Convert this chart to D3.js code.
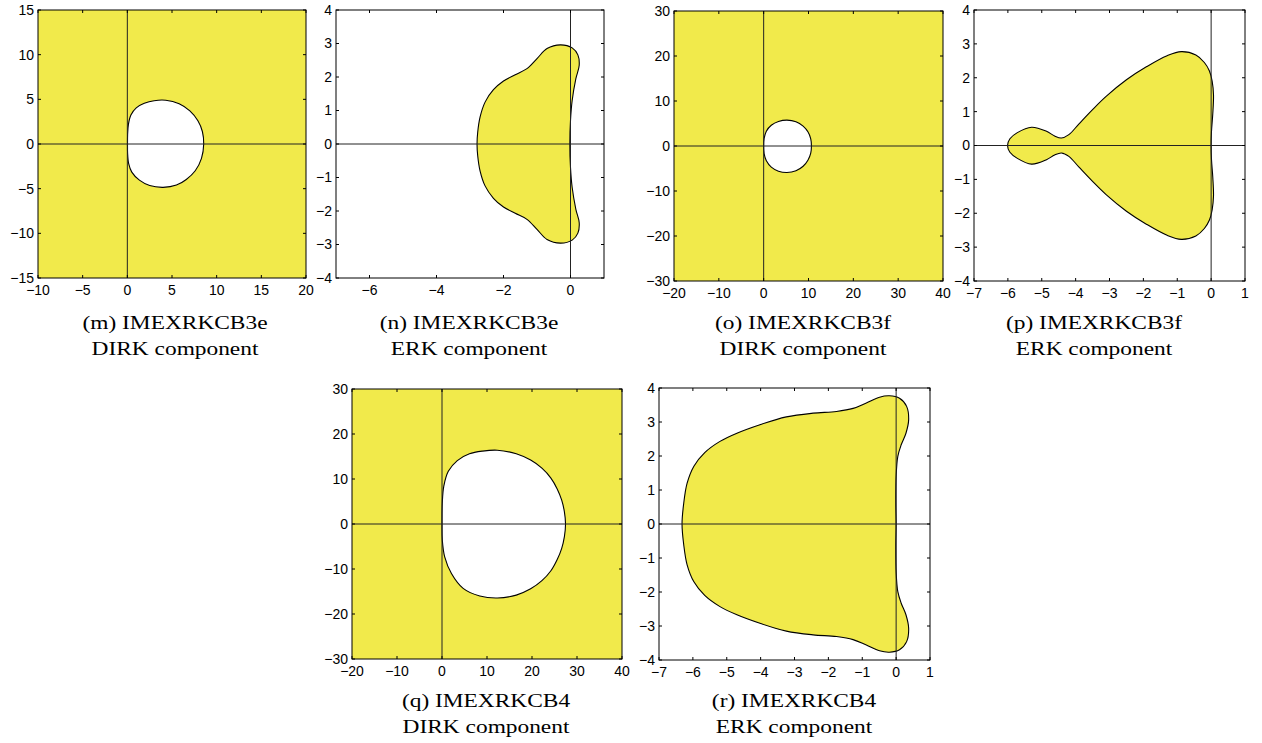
<!DOCTYPE html>
<html>
<head>
<meta charset="utf-8">
<script src="https://cdn.jsdelivr.net/npm/d3@7"></script>
<style>
  body { margin: 0; background: #fff; }
  svg { display: block; }
  .tl { font-family: "Liberation Sans", Arial, Helvetica, sans-serif; font-size: 14px; fill: #000; }
  .cap { font-family: "Liberation Serif", "Times New Roman", serif; font-size: 19.5px; fill: #000; }
</style>
</head>
<body>
<svg id="chart" width="1262" height="743"></svg>
<script>
// stability region boundaries, [Re z, Im z]

// (m) IMEXRKCB3e DIRK - white (unstable) hole
let mHole = [[8.55,0],[8.4,1.4],[7.9,2.6],[7.0,3.7],[5.8,4.5],[4.3,4.9],[3.0,4.85],[1.9,4.55],[1.0,4.05],[0.4,3.25],[0.12,2.2],[0.03,1.0],[0.02,0],
  [0.03,-1.0],[0.15,-2.2],[0.5,-3.15],[1.35,-4.05],[2.5,-4.65],[4.0,-4.85],[5.5,-4.6],[6.6,-3.97],[7.6,-3.0],[8.3,-1.6]];

// (n) IMEXRKCB3e ERK - yellow region
let nRegion = [[-0.02,0],[0.0,0.7],[0.05,1.3],[0.16,1.95],[0.26,2.35],[0.22,2.66],[0.05,2.87],[-0.3,2.96],[-0.7,2.85],[-1.0,2.55],[-1.3,2.25],[-1.65,2.07],[-2.0,1.88],[-2.3,1.62],[-2.55,1.25],[-2.7,0.8],[-2.77,0.35],[-2.79,0],
  [-2.77,-0.35],[-2.7,-0.8],[-2.55,-1.25],[-2.3,-1.62],[-2.0,-1.88],[-1.65,-2.07],[-1.3,-2.25],[-1.0,-2.55],[-0.7,-2.85],[-0.3,-2.96],[0.05,-2.87],[0.22,-2.66],[0.26,-2.35],[0.16,-1.95],[0.05,-1.3],[0.0,-0.7]];

// (o) IMEXRKCB3f DIRK - white hole
let oHole = [[10.65,0],[10.5,1.6],[9.9,3.1],[8.8,4.4],[7.2,5.4],[5.2,5.75],[3.3,5.45],[1.7,4.6],[0.6,3.3],[0.1,1.7],[0,0],
  [0.1,-1.7],[0.6,-3.3],[1.7,-4.7],[3.3,-5.6],[5.2,-5.9],[7.2,-5.5],[8.8,-4.5],[9.9,-3.1],[10.5,-1.6]];

// (p) IMEXRKCB3f ERK - yellow region
let pRegion = [[0,0],[0.01,0.4],[0.05,0.95],[0.07,1.5],[0.03,1.9],[-0.05,2.2],[-0.2,2.45],[-0.45,2.67],[-0.88,2.77],[-1.3,2.65],[-1.9,2.33],[-2.5,1.94],[-3.1,1.45],[-3.5,1.06],[-3.9,0.64],[-4.2,0.32],[-4.42,0.22],[-4.62,0.28],[-4.86,0.42],[-5.3,0.54],[-5.72,0.38],[-5.94,0.2],[-6.01,0],
  [-5.94,-0.2],[-5.72,-0.38],[-5.3,-0.55],[-4.86,-0.42],[-4.62,-0.28],[-4.42,-0.22],[-4.2,-0.32],[-3.9,-0.64],[-3.5,-1.06],[-3.1,-1.45],[-2.5,-1.94],[-1.9,-2.33],[-1.3,-2.65],[-0.88,-2.77],[-0.45,-2.67],[-0.2,-2.45],[-0.05,-2.2],[0.03,-1.9],[0.07,-1.5],[0.05,-0.95],[0.01,-0.4]];

// (q) IMEXRKCB4 DIRK - white hole
let qHole = [[27.45,0],[27.2,2.7],[26.6,5.3],[25.6,7.8],[24.2,10.2],[22.2,12.4],[19.7,14.2],[16.5,15.6],[12.3,16.4],[9.0,16.2],[6.1,15.6],[3.4,14.1],[1.4,11.7],[0.4,8.4],[0.06,4.6],[0,0],
  [0.07,-3.6],[0.6,-7.3],[2.1,-11],[4.7,-14.3],[8.4,-16],[12.3,-16.45],[16.5,-15.8],[19.7,-14.4],[22.2,-12.6],[24.2,-10.4],[25.6,-7.9],[26.6,-5.4],[27.2,-2.8]];

// (r) IMEXRKCB4 ERK - yellow region
let rRegion = [[0,0],[-0.01,0.6],[0.0,1.4],[0.05,1.99],[0.15,2.33],[0.29,2.67],[0.37,3.07],[0.31,3.46],[0.1,3.7],[-0.2,3.77],[-0.49,3.73],[-0.88,3.56],[-1.27,3.4],[-1.76,3.31],[-2.45,3.26],[-3.24,3.15],[-4.02,2.92],[-4.7,2.67],[-5.2,2.43],[-5.65,2.1],[-5.97,1.7],[-6.17,1.2],[-6.27,0.61],[-6.32,0],
  [-6.27,-0.61],[-6.17,-1.2],[-5.97,-1.7],[-5.65,-2.1],[-5.2,-2.43],[-4.7,-2.67],[-4.02,-2.92],[-3.24,-3.15],[-2.45,-3.26],[-1.76,-3.31],[-1.27,-3.4],[-0.88,-3.56],[-0.49,-3.73],[-0.2,-3.77],[0.1,-3.7],[0.31,-3.46],[0.37,-3.07],[0.29,-2.67],[0.15,-2.33],[0.05,-1.99],[0.0,-1.4],[-0.01,-0.6]];

// tick values
let mTicksX = [-10,-5,0,5,10,15,20];
let mTicksY = [-15,-10,-5,0,5,10,15];
let nTicksX = [-6,-4,-2,0];
let erkTicksX = [-7,-6,-5,-4,-3,-2,-1,0,1];
let erkTicksY = [-4,-3,-2,-1,0,1,2,3,4];
let dirkTicksX = [-20,-10,0,10,20,30,40];
let dirkTicksY = [-30,-20,-10,0,10,20,30];

let YELLOW = '#f1ea4b';

let panels = [
  {box:[38,10,306,278], xd:[-10,20], yd:[-15,15], xt:mTicksX, yt:mTicksY, kind:'dirk', shape:mHole, cx:175, cy:329, cap:['(m) IMEXRKCB3e','DIRK component']},
  {box:[336,10,604,278], xd:[-7,1], yd:[-4,4], xt:nTicksX, yt:erkTicksY, kind:'erk', shape:nRegion, cx:469, cy:329, cap:['(n) IMEXRKCB3e','ERK component']},
  {box:[674,11,943,281], xd:[-20,40], yd:[-30,30], xt:dirkTicksX, yt:dirkTicksY, kind:'dirk', shape:oHole, cx:803, cy:329, cap:['(o) IMEXRKCB3f','DIRK component']},
  {box:[974,10,1245,281], xd:[-7,1], yd:[-4,4], xt:erkTicksX, yt:erkTicksY, kind:'erk', shape:pRegion, cx:1094, cy:329, cap:['(p) IMEXRKCB3f','ERK component']},
  {box:[352,389,622,659], xd:[-20,40], yd:[-30,30], xt:dirkTicksX, yt:dirkTicksY, kind:'dirk', shape:qHole, cx:486, cy:707, cap:['(q) IMEXRKCB4','DIRK component']},
  {box:[659,388,930,660], xd:[-7,1], yd:[-4,4], xt:erkTicksX, yt:erkTicksY, kind:'erk', shape:rRegion, cx:794, cy:707, cap:['(r) IMEXRKCB4','ERK component']}
];

let svg = d3.select('#chart');
let fmt = d3.format('');

panels.forEach(function(p, i) {
  let [x0, y0, x1, y1] = p.box;
  let x = d3.scaleLinear().domain(p.xd).range([x0, x1]);
  let y = d3.scaleLinear().domain(p.yd).range([y1, y0]);
  let g = svg.append('g');

  let clipId = 'clip' + i;
  g.append('clipPath').attr('id', clipId)
    .append('rect').attr('x', x0).attr('y', y0).attr('width', x1 - x0).attr('height', y1 - y0);

  let plot = g.append('g').attr('clip-path', 'url(#' + clipId + ')');

  plot.append('rect')
    .attr('x', x0).attr('y', y0).attr('width', x1 - x0).attr('height', y1 - y0)
    .attr('fill', p.kind == 'dirk' ? YELLOW : '#fff');

  let line = d3.line()
    .x(d => x(d[0]))
    .y(d => y(d[1]))
    .curve(d3.curveCatmullRomClosed.alpha(0.5));

  plot.append('path')
    .datum(p.shape)
    .attr('d', line)
    .attr('fill', p.kind == 'dirk' ? '#fff' : YELLOW)
    .attr('stroke', '#000')
    .attr('stroke-width', 1.1);

  // real and imaginary axes
  plot.append('line')
    .attr('x1', x0).attr('x2', x1).attr('y1', y(0)).attr('y2', y(0))
    .attr('stroke', '#222').attr('stroke-width', 1);
  plot.append('line')
    .attr('x1', x(0)).attr('x2', x(0)).attr('y1', y0).attr('y2', y1)
    .attr('stroke', '#222').attr('stroke-width', 1);

  // ticks, inward, on all four sides
  let tlen = 3;
  p.xt.forEach(function(t) {
    g.append('line').attr('x1', x(t)).attr('x2', x(t)).attr('y1', y1).attr('y2', y1 - tlen).attr('stroke', '#000');
    g.append('line').attr('x1', x(t)).attr('x2', x(t)).attr('y1', y0).attr('y2', y0 + tlen).attr('stroke', '#000');
  });
  p.yt.forEach(function(t) {
    g.append('line').attr('x1', x0).attr('x2', x0 + tlen).attr('y1', y(t)).attr('y2', y(t)).attr('stroke', '#000');
    g.append('line').attr('x1', x1).attr('x2', x1 - tlen).attr('y1', y(t)).attr('y2', y(t)).attr('stroke', '#000');
  });

  g.append('rect')
    .attr('x', x0).attr('y', y0).attr('width', x1 - x0).attr('height', y1 - y0)
    .attr('fill', 'none').attr('stroke', '#000').attr('stroke-width', 1);

  g.selectAll('.xl').data(p.xt).enter().append('text')
    .attr('class', 'tl')
    .attr('x', d => x(d))
    .attr('y', y1 + 17)
    .attr('text-anchor', 'middle')
    .text(d => fmt(d));

  g.selectAll('.yl').data(p.yt).enter().append('text')
    .attr('class', 'tl')
    .attr('x', x0 - 4)
    .attr('y', d => y(d))
    .attr('dy', '0.35em')
    .attr('text-anchor', 'end')
    .text(d => fmt(d));

  p.cap.forEach(function(s, k) {
    g.append('text')
      .attr('class', 'cap')
      .attr('text-anchor', 'middle')
      .attr('transform', 'translate(' + p.cx + ',' + (p.cy + k * 26) + ') scale(1.2,1)')
      .text(s);
  });
});
</script>
</body>
</html>
